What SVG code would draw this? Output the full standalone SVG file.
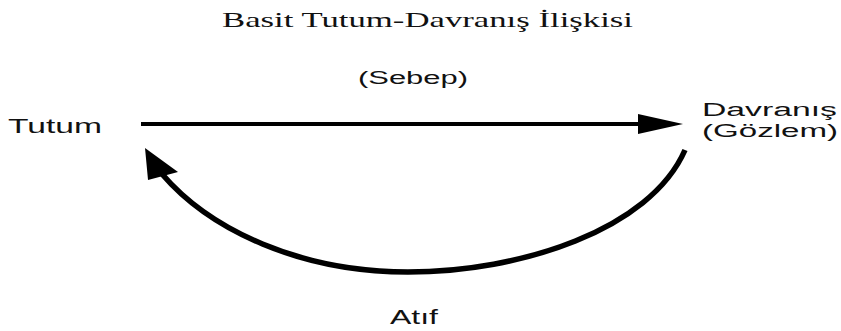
<svg xmlns="http://www.w3.org/2000/svg" width="841" height="331" viewBox="0 0 841 331">
<style>
.sans{font-family:"Liberation Sans",Arial,sans-serif;fill:#111}
.serif{font-family:"Liberation Serif","Times New Roman",serif;fill:#111}
.edge{fill:none;stroke:#000}
.head{fill:#000;stroke:none}
</style>
<rect width="841" height="331" fill="#fff"/>
<g id="title">
<text class="serif" x="222" y="27" font-size="21" textLength="411" lengthAdjust="spacingAndGlyphs">Basit Tutum-Davranış İlişkisi</text>
</g>
<g id="node-tutum">
<text class="sans" x="8" y="133" font-size="21" textLength="94" lengthAdjust="spacingAndGlyphs">Tutum</text>
</g>
<g id="node-davranis">
<text class="sans" x="702" y="116" font-size="18" textLength="135" lengthAdjust="spacingAndGlyphs">Davranış</text>
<text class="sans" x="702" y="137" font-size="18" textLength="136" lengthAdjust="spacingAndGlyphs">(Gözlem)</text>
</g>
<g id="connectors">
<line class="edge" x1="141" y1="124" x2="642" y2="124" stroke-width="4"/>
<polygon class="head" points="638,114 683,124 638,134"/>
<path class="edge" d="M685,150 C650,230 520,272 408,272 C300,272 210,230 162,174" stroke-width="5.5"/>
<polygon class="head" points="145,148 148,180 178,172"/>
<text class="sans" x="358" y="84" font-size="18" textLength="110" lengthAdjust="spacingAndGlyphs">(Sebep)</text>
<text class="sans" x="390" y="324" font-size="20" textLength="48" lengthAdjust="spacingAndGlyphs">Atıf</text>
</g>
</svg>
